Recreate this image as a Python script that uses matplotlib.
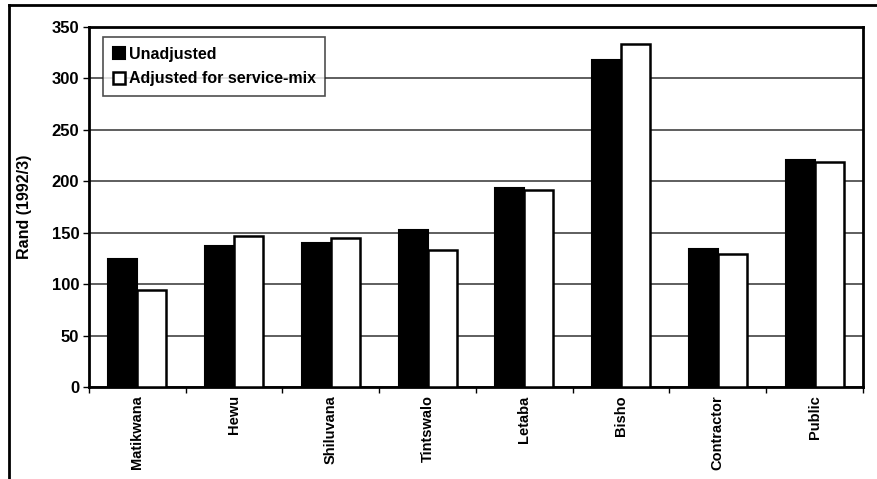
import matplotlib
matplotlib.use("Agg")
import matplotlib.pyplot as plt
import numpy as np

categories = ["Matikwana", "Hewu", "Shiluvana", "Tintswalo", "Letaba", "Bisho", "Contractor", "Public"]
unadjusted = [124, 137, 140, 153, 193, 318, 134, 221]
adjusted = [94, 147, 145, 133, 192, 333, 129, 219]
yticks = [0, 50, 100, 150, 200, 250, 300, 350]

plt.rcParams['font.family'] = ['Liberation Sans', 'DejaVu Sans']
plt.rcParams['font.weight'] = 'bold'

fig = plt.figure(figsize=(8.78, 4.79), dpi=100)
W, H = 878, 479
ax = fig.add_axes([89 / W, 1 - 387 / H, (863 - 89) / W, (387 - 27) / H])

x = np.arange(len(categories))
bw = 0.3
ax.bar(x - bw / 2, unadjusted, bw, color='black', edgecolor='black', linewidth=1.5,
       label='Unadjusted', zorder=3)
ax.bar(x + bw / 2, adjusted, bw, color='white', edgecolor='black', linewidth=1.8,
       label='Adjusted for service-mix', zorder=3)

ax.set_xlim(-0.5, len(categories) - 0.5)
ax.set_ylim(0, 350)
ax.set_yticks(yticks)
ax.set_yticklabels([str(v) for v in yticks], fontsize=12, fontweight='bold')
ax.yaxis.grid(True, color='#333333', linewidth=1.1, zorder=0)
ax.set_axisbelow(True)

ax.set_xticks(x)
ax.set_xticklabels(categories, rotation=90, fontsize=10.5, fontweight='bold')
ax.tick_params(axis='x', length=0, pad=6)
ax.set_xticks(np.arange(len(categories) + 1) - 0.5, minor=True)
ax.tick_params(axis='x', which='minor', length=4, width=1, direction='out')
ax.tick_params(axis='y', length=4, width=1, direction='out', pad=3)

for s in ax.spines.values():
    s.set_linewidth(2)
    s.set_color('black')

ax.set_ylabel("Rand (1992/3)", fontsize=11.5, fontweight='bold', labelpad=14)

leg = ax.legend(loc='upper left', bbox_to_anchor=(0.012, 0.985), fontsize=11.5,
                frameon=True, fancybox=False, edgecolor='#222222', handlelength=0.8,
                handleheight=0.8, handletextpad=0.2, borderpad=0.6, labelspacing=0.6,
                borderaxespad=0.3)
leg.get_frame().set_linewidth(1.2)
for t in leg.get_texts():
    t.set_fontweight('bold')

# outer figure frame (top and left edges)
fig.add_artist(plt.Line2D([9 / W, 1.0], [1 - 5 / H, 1 - 5 / H], color='black', linewidth=2,
                          transform=fig.transFigure))
fig.add_artist(plt.Line2D([9 / W, 9 / W], [1 - 5 / H, 0.0], color='black', linewidth=2,
                          transform=fig.transFigure))

fig.savefig("out.png", dpi=100)
